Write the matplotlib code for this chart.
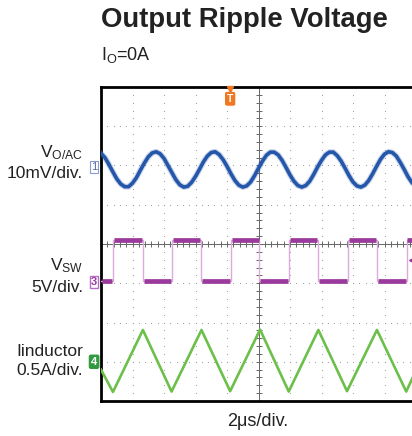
import numpy as np
import matplotlib.pyplot as plt
from matplotlib.transforms import blended_transform_factory

plt.rcParams['font.family'] = ['Liberation Sans', 'DejaVu Sans']
plt.rcParams['mathtext.fontset'] = 'custom'
plt.rcParams['mathtext.rm'] = 'Liberation Sans'
plt.rcParams['mathtext.it'] = 'Liberation Sans:italic'

# scope screen is 10 x 8 divisions, values below are in divisions
# ch1: output ripple (AC), sampled every 1/8 div across the screen
vo_div = [6.31, 6.20, 6.03, 5.84, 5.66, 5.53, 5.46, 5.46, 5.55, 5.69,
          5.88, 6.06, 6.22, 6.32, 6.35, 6.30, 6.18, 6.00, 5.82, 5.64,
          5.51, 5.45, 5.47, 5.57, 5.72, 5.90, 6.09, 6.24, 6.33, 6.35,
          6.28, 6.15, 5.98, 5.79, 5.62, 5.50, 5.45, 5.48, 5.58, 5.74,
          5.93, 6.11, 6.26, 6.34, 6.34, 6.27, 6.13, 5.95, 5.76, 5.60,
          5.49, 5.45, 5.49, 5.60, 5.77, 5.96, 6.13, 6.27, 6.34, 6.34,
          6.25, 6.11, 5.93, 5.74, 5.58, 5.48, 5.45, 5.50, 5.62, 5.79,
          5.98, 6.16, 6.29, 6.35, 6.33, 6.24, 6.08, 5.90, 5.71, 5.56,
          5.47]

# ch3: switch node, edge times (div) and the two levels
sw_edges = [0.38, 1.33, 2.24, 3.17, 4.12, 5.03, 5.97, 6.90, 7.83, 8.76, 9.70]
sw_low = 3.06
sw_high = 4.10

# ch4: inductor current, triangle vertices
il_t = [0, 0.38, 1.33, 2.24, 3.19, 4.10, 5.05, 5.96, 6.90, 7.81, 8.76, 9.69, 10]
il_div = [0.80, 0.23, 1.81, 0.24, 1.81, 0.25, 1.82, 0.24, 1.81, 0.25, 1.81, 0.24, 0.78]

ch_levels = [5.96, 3.03, 1.00]
ch_names = ['1', '3', '4']

BLUE = '#2456aa'
PURPLE = '#9a3a9c'
PINK = '#dcaadc'
GREEN = '#6cc04a'
GRID = '#9a9a9a'

W, H = 412, 436
fig = plt.figure(figsize=(W / 100, H / 100), dpi=100)
ax = fig.add_axes([101 / W, 35 / H, 315 / W, 314 / H])
ax.set_xlim(0, 10)
ax.set_ylim(0, 8)
ax.set_xticks([])
ax.set_yticks([])
for s in ['left', 'top', 'bottom']:
    ax.spines[s].set_linewidth(2.0)
ax.spines['right'].set_visible(False)


def px(x, y):
    return x / W, 1 - y / H


# graticule
fine_y = np.arange(0, 8.01, 0.2)
fine_x = np.arange(0, 10.01, 0.2)
for gx in range(1, 10):
    if gx == 5:
        continue
    ax.plot(np.full(len(fine_y), gx), fine_y, ls='none', marker='.', ms=1.6,
            color=GRID, mew=0)
for gy in range(1, 8):
    if gy == 4:
        continue
    ax.plot(fine_x, np.full(len(fine_x), gy), ls='none', marker='.', ms=1.6,
            color=GRID, mew=0)
ax.axvline(5, color='#666666', lw=0.7, zorder=1)
ax.axhline(4, color='#666666', lw=0.7, zorder=1)
ax.plot(np.full(len(fine_y), 5), fine_y, ls='none', marker='_', ms=4,
        color='#666666', mew=0.7)
ax.plot(fine_x, np.full(len(fine_x), 4), ls='none', marker='|', ms=4,
        color='#666666', mew=0.7)

# ch1 trace
vo_t = np.linspace(0, 10, len(vo_div))
ax.plot(vo_t, vo_div, color=BLUE, lw=4.2, alpha=0.25, zorder=3)
ax.plot(vo_t, vo_div, color=BLUE, lw=2.6, zorder=4)

# ch3 trace: thin edges, thick flat parts
sw_x = [0] + sw_edges + [10]
levels = []
lev = sw_low
for i in range(len(sw_x) - 1):
    levels.append(lev)
    lev = sw_high if lev == sw_low else sw_low
ax.step(sw_x, levels + [levels[-1]], where='post', color=PINK, lw=1.0, zorder=3)
for i in range(len(sw_x) - 1):
    ax.plot([sw_x[i] + 0.03, sw_x[i + 1] - 0.03], [levels[i], levels[i]],
            color=PURPLE, lw=3.4, solid_capstyle='butt', zorder=4)

# ch4 trace
ax.plot(il_t, il_div, color=GREEN, lw=1.9, zorder=4)

# channel markers on the left edge
tr = blended_transform_factory(ax.transAxes, ax.transData)
ax.text(-0.012, ch_levels[0], ch_names[0], transform=tr, ha='right', va='center',
        fontsize=8, color='#5468a8',
        bbox=dict(boxstyle='square,pad=0.1', fc='white', ec='#8c9ad2', lw=0.8))
ax.text(-0.012, ch_levels[1], ch_names[1], transform=tr, ha='right', va='center',
        fontsize=8, color=PURPLE, fontweight='bold',
        bbox=dict(boxstyle='square,pad=0.1', fc='white', ec='#b46ec4', lw=1.0))
ax.text(-0.012, ch_levels[2], ch_names[2], transform=tr, ha='right', va='center',
        fontsize=8, color='white', fontweight='bold',
        bbox=dict(boxstyle='round,pad=0.15', fc='#2f9a3e', ec='#2f9a3e', lw=0.8))

# trigger markers
ax.plot(4.10, 7.94, marker='v', ms=4, color='#f07820', clip_on=False, zorder=5)
ax.text(4.10, 7.70, 'T', ha='center', va='center', fontsize=7.5, color='white',
        fontweight='bold', zorder=5,
        bbox=dict(boxstyle='round,pad=0.12', fc='#f07820', ec='#f07820'))
ax.plot(9.86, 3.59, marker='<', ms=5, color=PURPLE, clip_on=False, zorder=5)

# titles and labels
fig.text(*px(101, 20), 'Output Ripple Voltage', fontsize=19.8, fontweight='bold',
         color='#222222', ha='left', va='center')
fig.text(*px(101, 55), 'I$_\\mathrm{O}$=0A', fontsize=13, color='#222222',
         ha='left', va='center')

lab = dict(fontsize=12.5, color='#222222', ha='right', va='center')
fig.text(*px(83, 153), 'V$_\\mathrm{O/AC}$', **lab)
fig.text(*px(83, 173), '10mV/div.', **lab)
fig.text(*px(83, 266), 'V$_\\mathrm{SW}$', **lab)
fig.text(*px(83, 287), '5V/div.', **lab)
fig.text(*px(83, 351), 'Iinductor', **lab)
fig.text(*px(83, 370), '0.5A/div.', **lab)
fig.text(*px(258, 421), '2\u03bcs/div.', fontsize=13, color='#222222',
         ha='center', va='center')

fig.savefig('out.png', dpi=100)
